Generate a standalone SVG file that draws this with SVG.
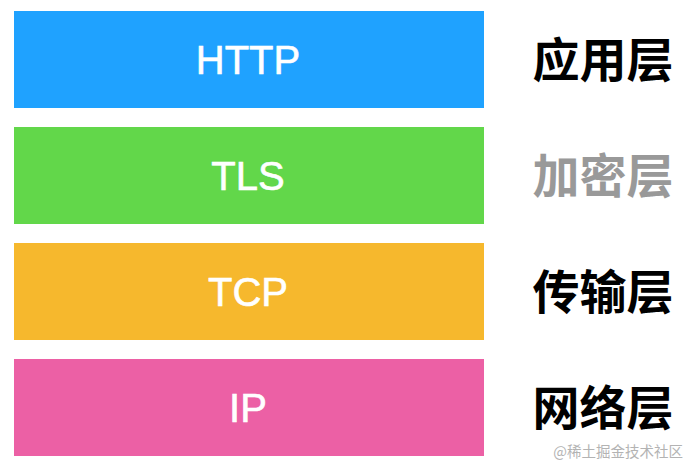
<svg xmlns="http://www.w3.org/2000/svg" width="698" height="474" viewBox="0 0 698 474">
<style>
.bar{stroke:none}
.proto{font-family:"Liberation Sans",Arial,sans-serif;font-size:40px;fill:#fff;stroke:#fff;stroke-width:0.6px;text-anchor:middle}
.layer{font-family:"Noto Sans CJK SC",sans-serif;font-size:47px;font-weight:bold;text-anchor:middle;fill:#000}
.gray{fill:#999}
.wm{font-family:"Noto Sans CJK SC",sans-serif;font-size:14.5px;fill:#b3b3b3;text-anchor:end}
</style>
<rect width="698" height="474" fill="#fff"/>
<g id="http">
<rect class="bar" x="14" y="11" width="470" height="97" fill="#1fa2ff"/>
<text class="proto" x="248" y="73.5">HTTP</text>
</g>
<g id="tls">
<rect class="bar" x="14" y="127" width="470" height="97" fill="#62d74a"/>
<text class="proto" x="248" y="190">TLS</text>
</g>
<g id="tcp">
<rect class="bar" x="14" y="243" width="470" height="97" fill="#f6b82d"/>
<text class="proto" x="248" y="306">TCP</text>
</g>
<g id="ip">
<rect class="bar" x="14" y="359" width="470" height="97" fill="#ec60a5"/>
<text class="proto" x="248" y="422">IP</text>
</g>
<g id="layer-app"><text class="layer" x="603" y="77">应用层</text></g>
<g id="layer-crypto"><text class="layer gray" x="603" y="193">加密层</text></g>
<g id="layer-transport"><text class="layer" x="603" y="309">传输层</text></g>
<g id="layer-network"><text class="layer" x="603" y="425">网络层</text></g>
<g id="connectors"></g>
<text class="wm" x="683" y="457">@稀土掘金技术社区</text>
</svg>
